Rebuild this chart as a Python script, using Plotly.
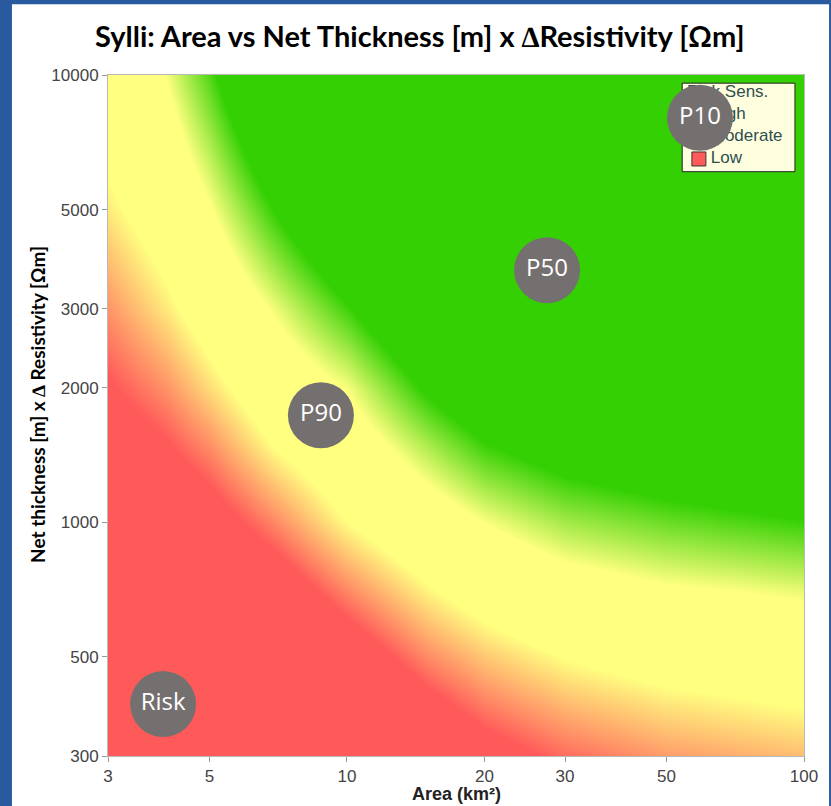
import math
import plotly.graph_objects as go

# Risk-sensitivity field on a log grid: score 0 = pure red (low),
# 1..2 = yellow plateau (moderate), >=3 = pure green (high)
area_grid = [3, 4, 5, 7, 10, 15, 20, 30, 50, 70, 100]
thick_grid = [300, 400, 500, 700, 1000, 1500, 2000, 3000, 5000, 7000, 10000]
score_grid = [
    [-1.5, -1.5, -1.5, -1.5, -1.46, -0.67, -0.26, 0.11, 0.40, 0.50, 0.60],
    [-1.5, -1.5, -1.5, -1.49, -0.87, -0.13, 0.26, 0.62, 0.88, 0.97, 1.07],
    [-1.48, -1.47, -1.40, -1.06, -0.42, 0.29, 0.66, 1.02, 1.28, 1.37, 1.47],
    [-1.14, -1.03, -0.86, -0.40, 0.27, 0.93, 1.31, 1.68, 1.92, 2.00, 2.11],
    [-0.77, -0.57, -0.31, 0.29, 1.00, 1.59, 2.02, 2.45, 2.73, 2.85, 2.98],
    [-0.36, -0.04, 0.33, 1.06, 1.60, 2.43, 3.00, 3.41, 3.69, 3.83, 3.96],
    [-0.06, 0.33, 0.78, 1.48, 2.03, 3.10, 3.69, 4.10, 4.36, 4.5, 4.5],
    [0.35, 0.85, 1.32, 2.09, 2.94, 4.02, 4.5, 4.5, 4.5, 4.5, 4.5],
    [0.87, 1.36, 1.95, 3.04, 4.09, 4.5, 4.5, 4.5, 4.5, 4.5, 4.5],
    [1.14, 1.67, 2.39, 3.67, 4.5, 4.5, 4.5, 4.5, 4.5, 4.5, 4.5],
    [1.39, 2.00, 2.85, 4.34, 4.5, 4.5, 4.5, 4.5, 4.5, 4.5, 4.5],
]

# Probability markers
point_labels = ["P10", "P50", "P90", "Risk"]
point_area = [59.2, 27.4, 8.77, 3.96]
point_thick = [8020, 3660, 1734, 392]

# Axis ticks
x_ticks = [3, 5, 10, 20, 30, 50, 100]
y_ticks = [300, 500, 1000, 2000, 3000, 5000, 10000]

# Legend entries
legend_title = "Risk Sens."
legend_labels = ["High", "Moderate", "Low"]

RED = "rgb(255,90,90)"
YELLOW = "rgb(255,255,128)"
GREEN = "rgb(52,208,4)"
legend_colors = [GREEN, YELLOW, RED]

ZMIN, ZMAX = -1.5, 4.5


def zpos(v):
    return (v - ZMIN) / (ZMAX - ZMIN)


colorscale = [
    [0.0, RED], [zpos(0), RED],
    [zpos(1), YELLOW], [zpos(2), YELLOW],
    [zpos(3), GREEN], [1.0, GREEN],
]

x_range = [math.log10(3), 2]
y_range = [math.log10(300), 4]

fig = go.Figure()

fig.add_trace(go.Heatmap(
    x=area_grid, y=thick_grid, z=score_grid,
    zsmooth="best", colorscale=colorscale, zmin=ZMIN, zmax=ZMAX,
    showscale=False, hoverinfo="skip",
))

# Legend panel (fractions of the plot area on a hidden overlay)
lx0, lx1, ly0, ly1 = 0.825, 0.987, 0.858, 0.988
fig.add_trace(go.Scatter(
    x=[lx0, lx1, lx1, lx0, lx0], y=[ly0, ly0, ly1, ly1, ly0],
    mode="lines", fill="toself", fillcolor="#FFFFE0",
    line=dict(color="#222222", width=1),
    xaxis="x2", yaxis="y2", showlegend=False, hoverinfo="skip",
))
row_y = [0.9413, 0.909, 0.8767]
fig.add_trace(go.Scatter(
    x=[0.849] * 3, y=row_y, mode="markers",
    marker=dict(symbol="square", size=14, color=legend_colors,
                line=dict(color="#333333", width=1)),
    xaxis="x2", yaxis="y2", showlegend=False, hoverinfo="skip",
))
fig.add_trace(go.Scatter(
    x=[0.832] + [0.866] * 3, y=[0.9736] + row_y, mode="text",
    text=[legend_title] + legend_labels, textposition="middle right",
    textfont=dict(family="Liberation Sans, Arial", size=17, color="#2F4F4F"),
    xaxis="x2", yaxis="y2", showlegend=False, hoverinfo="skip",
))

# Probability circles on top of everything
fig.add_trace(go.Scatter(
    x=point_area, y=point_thick, mode="markers+text",
    text=point_labels, textposition="middle center",
    textfont=dict(family="Open Sans", size=24, color="white"),
    marker=dict(size=66, color="#757070", line=dict(width=0)),
    xaxis="x3", yaxis="y3", showlegend=False, hoverinfo="skip",
))

tick_font = dict(family="Liberation Sans, Arial", size=17, color="#444444")
axis_common = dict(
    type="log", showgrid=False, zeroline=False, ticks="outside", ticklen=5,
    tickcolor="#999999", showline=True, linecolor="#b8b8b8", linewidth=1,
    mirror=True, tickfont=tick_font,
)

fig.update_layout(
    width=831, height=806,
    margin=dict(l=108, r=27, t=75, b=50),
    paper_bgcolor="#2A5A9E", plot_bgcolor="white",
    showlegend=False,
    xaxis=dict(range=x_range, tickvals=x_ticks,
               ticktext=[str(v) for v in x_ticks], **axis_common),
    yaxis=dict(range=y_range, tickvals=y_ticks,
               ticktext=[str(v) for v in y_ticks], **axis_common),
    xaxis2=dict(overlaying="x", range=[0, 1], visible=False),
    yaxis2=dict(overlaying="y", range=[0, 1], visible=False),
    xaxis3=dict(overlaying="x", type="log", range=x_range, visible=False),
    yaxis3=dict(overlaying="y", type="log", range=y_range, visible=False),
    shapes=[dict(type="rect", xref="paper", yref="paper",
                 x0=-0.138, x1=1.036, y0=-0.12, y1=1.104,
                 fillcolor="white", line=dict(width=0), layer="below")],
    annotations=[
        dict(text="<b>Sylli: Area vs Net Thickness [m] x ∆Resistivity [Ωm]</b>",
             xref="paper", yref="paper", x=0.448, y=1.0573,
             xanchor="center", yanchor="middle", showarrow=False,
             font=dict(family="Lato", size=29, color="black")),
        dict(text="<b>Net thickness [m] x ∆ Resistivity [Ωm]</b>",
             xref="paper", yref="paper", x=-0.1006, y=0.517, textangle=-90,
             xanchor="center", yanchor="middle", showarrow=False,
             font=dict(family="Lato", size=19, color="black")),
        dict(text="<b>Area (km²)</b>",
             xref="paper", yref="paper", x=0.5, y=-0.0565,
             xanchor="center", yanchor="middle", showarrow=False,
             font=dict(family="Liberation Sans, Arial", size=18, color="#222222")),
    ],
)

fig.write_html("out.html")
